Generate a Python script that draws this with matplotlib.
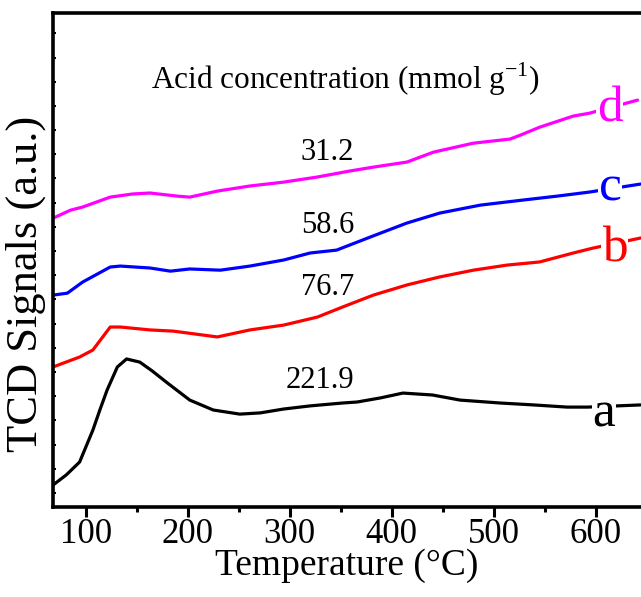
import matplotlib
matplotlib.use("Agg")
import matplotlib.pyplot as plt
from matplotlib.ticker import MultipleLocator

plt.rcParams['font.family'] = ['Liberation Serif', 'DejaVu Serif']
plt.rcParams['mathtext.fontset'] = 'custom'
plt.rcParams['mathtext.rm'] = 'Liberation Serif'

# -- data (temperature in C, signal in a.u.) ---------------------------------
temp_a = [68, 81, 94, 107, 114, 121, 131, 140, 153, 165, 180, 202, 225, 251,
          271, 294, 320, 352, 366, 389, 411, 440, 467, 506, 539, 572, 592, 644]
sig_a = [0.33, 0.75, 1.28, 2.60, 3.45, 4.26, 5.21, 5.54, 5.41, 5.05, 4.55, 3.84,
         3.43, 3.26, 3.31, 3.47, 3.60, 3.72, 3.76, 3.93, 4.13, 4.05, 3.84, 3.72,
         3.64, 3.55, 3.55, 3.64]

temp_b = [68, 94, 107, 124, 134, 163, 186, 229, 261, 294, 327, 352, 382, 415,
          447, 480, 513, 545, 578, 597, 644]
sig_b = [5.21, 5.62, 5.91, 6.86, 6.86, 6.74, 6.69, 6.45, 6.74, 6.94, 7.27, 7.69,
         8.18, 8.60, 8.93, 9.21, 9.42, 9.55, 9.92, 10.12, 10.54]

temp_c = [68, 82, 97, 124, 134, 163, 183, 202, 232, 261, 294, 320, 346, 379,
          415, 447, 487, 529, 562, 594, 644]
sig_c = [8.18, 8.26, 8.72, 9.34, 9.38, 9.30, 9.17, 9.26, 9.21, 9.38, 9.63, 9.92,
         10.04, 10.58, 11.16, 11.57, 11.90, 12.11, 12.27, 12.44, 12.77]

temp_d = [68, 85, 97, 124, 146, 163, 190, 202, 229, 261, 294, 327, 359, 382,
          415, 441, 480, 516, 526, 545, 578, 594, 641]
sig_d = [11.36, 11.69, 11.82, 12.23, 12.36, 12.40, 12.27, 12.23, 12.48, 12.69,
         12.85, 13.06, 13.31, 13.47, 13.68, 14.09, 14.46, 14.63, 14.79, 15.12,
         15.58, 15.70, 16.24]

labels = ['a', 'b', 'c', 'd']
colors = ['black', 'red', 'blue', '#ff00ff']
acid = ['221.9', '76.7', '58.6', '31.2']

series = [(temp_a, sig_a), (temp_b, sig_b), (temp_c, sig_c), (temp_d, sig_d)]

# where the letter / number labels sit
label_x = [597, 606, 603, 601]
label_y = [2.73, 9.55, 12.1, 15.35]
acid_x = [330, 337, 337, 337]
acid_y = [4.35, 8.2, 10.75, 13.75]

fig = plt.figure(figsize=(6.41, 5.97), dpi=100)
ax = fig.add_axes([0.0822, 0.1513, 0.9178, 0.8277])

for (t, s), c in zip(series, colors):
    ax.plot(t, s, color=c, lw=2.3, solid_capstyle='round')

for lab, c, x, y in zip(labels, colors, label_x, label_y):
    ax.text(x, y, lab, color=c, fontsize=37, ha='left', va='baseline',
            bbox=dict(facecolor='white', edgecolor='none', pad=0.5))

for txt, x, y in zip(acid, acid_x, acid_y):
    ax.text(x, y, txt, fontsize=22, ha='center', va='baseline')

ax.text(355, 16.7, 'Acid concentration (mmol g$^{\\mathrm{-1}}$)', fontsize=22.5,
        ha='center', va='baseline')

ax.set_xlim(67.6, 644.4)
ax.set_ylim(-0.566, 19.86)

ax.xaxis.set_major_locator(MultipleLocator(100))
ax.xaxis.set_minor_locator(MultipleLocator(50))
ax.yaxis.set_major_locator(MultipleLocator(1))
ax.tick_params(axis='x', which='major', direction='out', length=7, width=2.2,
               labelsize=25, pad=1)
ax.tick_params(axis='x', which='minor', direction='out', length=3.6, width=2.2)
ax.tick_params(axis='y', which='major', direction='in', length=2.2, width=1.5,
               labelleft=False)
ax.tick_params(top=False, right=False)

for side in ['left', 'bottom', 'top']:
    ax.spines[side].set_linewidth(2.6)
ax.spines['right'].set_visible(False)

ax.set_xlabel('Temperature (°C)', fontsize=27, labelpad=-2)
ax.set_ylabel('TCD Signals (a.u.)', fontsize=32)
ax.yaxis.set_label_coords(-0.012, 0.45)

fig.savefig('out.png', dpi=100)
